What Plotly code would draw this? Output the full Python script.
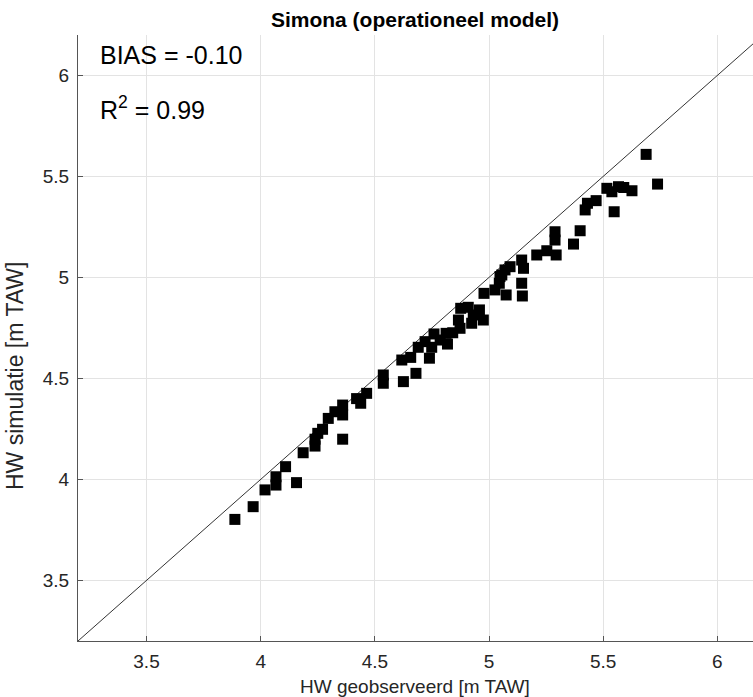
import plotly.graph_objects as go

obs = [3.887, 3.967, 4.019, 4.067, 4.067, 4.109, 4.157, 4.186, 4.238, 4.238,
       4.25, 4.271, 4.296, 4.325, 4.359, 4.359, 4.359, 4.42, 4.438, 4.464,
       4.537, 4.537, 4.625, 4.68, 4.618, 4.657, 4.69, 4.739, 4.72, 4.759,
       4.749, 4.786, 4.818, 4.812, 4.841, 4.873, 4.866, 4.876, 4.909, 4.924,
       4.931, 4.958, 4.975, 4.978, 5.026, 5.045, 5.056, 5.075, 5.048, 5.07,
       5.092, 5.143, 5.151, 5.143, 5.146, 5.209, 5.253, 5.294, 5.289, 5.289,
       5.37, 5.399, 5.421, 5.431, 5.469, 5.516, 5.538, 5.567, 5.548, 5.626,
       5.688, 5.738, 5.59]
sim = [3.802, 3.865, 3.948, 3.972, 4.013, 4.063, 3.984, 4.132, 4.165, 4.199,
       4.228, 4.248, 4.302, 4.335, 4.368, 4.319, 4.199, 4.40, 4.377, 4.426,
       4.517, 4.476, 4.484, 4.525, 4.591, 4.604, 4.654, 4.60, 4.682, 4.72,
       4.654, 4.69, 4.67, 4.723, 4.726, 4.748, 4.789, 4.847, 4.852, 4.773,
       4.814, 4.839, 4.789, 4.921, 4.938, 4.971, 5.012, 4.913, 5.004, 5.037,
       5.053, 5.086, 5.045, 4.971, 4.908, 5.111, 5.132, 5.111, 5.185, 5.226,
       5.165, 5.231, 5.334, 5.367, 5.38, 5.441, 5.424, 5.449, 5.325, 5.429,
       5.609, 5.462, 5.445]

diag = [3.2, 6.2]
ticks = [3.5, 4, 4.5, 5, 5.5, 6]
tick_text = ["3.5", "4", "4.5", "5", "5.5", "6"]

title_text = "<b>Simona (operationeel model)</b>"
x_title = "HW geobserveerd [m TAW]"
y_title = "HW simulatie [m TAW]"
bias_text = "BIAS = -0.10"
r2_text = "R<sup>2</sup> = 0.99"

FONT = "Liberation Sans, Arial, Helvetica, sans-serif"
DARK = "#262626"

fig = go.Figure()
fig.add_trace(go.Scatter(x=diag, y=diag, mode="lines",
                         line=dict(color="#333333", width=1), hoverinfo="skip",
                         showlegend=False))
fig.add_trace(go.Scatter(x=obs, y=sim, mode="markers",
                         marker=dict(symbol="square", size=11, color="black",
                                     line=dict(width=0)),
                         showlegend=False))

axis_common = dict(
    tickvals=ticks, ticktext=tick_text,
    showgrid=True, gridcolor="#e3e3e3", gridwidth=1,
    zeroline=False, showline=True, linecolor="#555555", linewidth=1,
    ticks="inside", ticklen=5, tickcolor="#555555",
    tickfont=dict(family=FONT, size=19, color=DARK),
)

fig.update_layout(
    width=753, height=697,
    margin=dict(l=78, r=0, t=35, b=56),
    paper_bgcolor="white", plot_bgcolor="white",
    title=dict(text=title_text, x=415/753, xanchor="center", xref="container",
               y=1 - 20/697, yanchor="middle", yref="container",
               font=dict(family=FONT, size=21, color="black")),
    xaxis=dict(range=[3.2, 6.156], ticklabelstandoff=3, **axis_common),
    yaxis=dict(range=[3.2, 6.2], ticklabelstandoff=4, **axis_common),
    annotations=[
        dict(text=bias_text, xref="paper", yref="paper", x=20/675, y=(641-55)/606,
             xanchor="left", yanchor="middle", showarrow=False,
             font=dict(family=FONT, size=25, color="black")),
        dict(text=r2_text, xref="paper", yref="paper", x=20/675, y=(641-108)/606,
             xanchor="left", yanchor="middle", showarrow=False,
             font=dict(family=FONT, size=25, color="black")),
        dict(text=x_title, xref="paper", yref="paper", x=(415-78)/675, y=-(686-641)/606,
             xanchor="center", yanchor="middle", showarrow=False,
             font=dict(family=FONT, size=19, color=DARK)),
        dict(text=y_title, xref="paper", yref="paper", x=-(78-15)/675, y=(641-376)/606,
             xanchor="center", yanchor="middle", showarrow=False, textangle=-90,
             font=dict(family=FONT, size=23, color=DARK)),
    ],
)

fig.write_html("out.html")
